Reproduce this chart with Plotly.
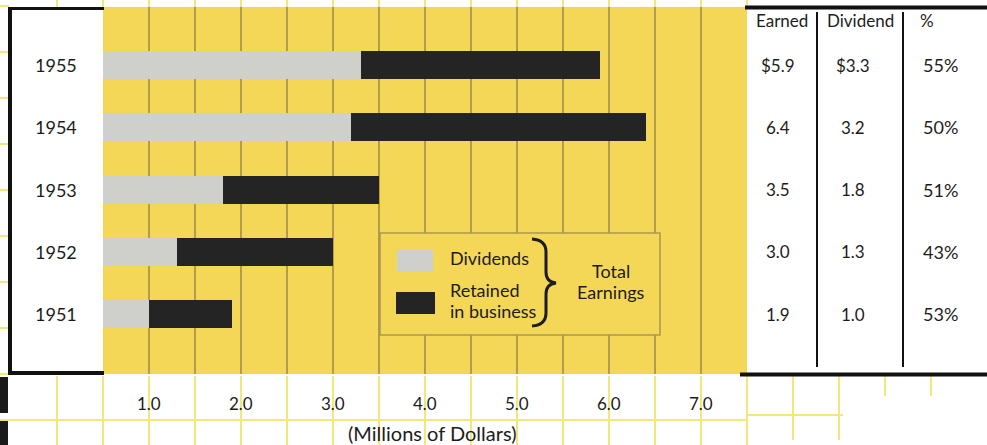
import plotly.graph_objects as go

# ---------------- data ----------------
years = ["1951", "1952", "1953", "1954", "1955"]
earned = [1.9, 3.0, 3.5, 6.4, 5.9]
dividends = [1.0, 1.3, 1.8, 3.2, 3.3]
payout_pct = [53, 43, 51, 50, 55]
retained = [round(e - d, 1) for e, d in zip(earned, dividends)]

tick_values = [1.0, 2.0, 3.0, 4.0, 5.0, 6.0, 7.0]
tick_labels = ["1.0", "2.0", "3.0", "4.0", "5.0", "6.0", "7.0"]
grid_values = [1.0, 1.5, 2.0, 2.5, 3.0, 3.5, 4.0, 4.5, 5.0, 5.5, 6.0, 6.5, 7.0]
table_headers = ["Earned", "Dividend", "%"]
x_title = "(Millions of Dollars)"

# ---------------- layout helpers (pixels -> paper) ----------------
W, H = 987, 445
def X(px): return px / W
def Y(py): return 1 - py / H

YELLOW = "#f5d758"
GRID = "#b49c48"
PAPER_LINE = "#f3e77c"
INK = "#1c1c1c"
GRAY_BAR = "#cfcfcb"
BLACK_BAR = "#242424"
FONT = "Lato"

X0_PX, X1_PX = 103, 747
XR = (0.5, 7.5)
def data_to_px(v):
    return X0_PX + (v - XR[0]) * (X1_PX - X0_PX) / (XR[1] - XR[0])

fig = go.Figure()
fig.add_trace(go.Bar(y=years, x=dividends, orientation="h", width=0.45,
                     marker=dict(color=GRAY_BAR, line=dict(width=0)),
                     name="Dividends", hoverinfo="skip"))
fig.add_trace(go.Bar(y=years, x=retained, orientation="h", width=0.45,
                     marker=dict(color=BLACK_BAR, line=dict(width=0)),
                     name="Retained in business", hoverinfo="skip"))

shapes = []
def line(x0, y0, x1, y1, color, width, layer="below"):
    shapes.append(dict(type="line", xref="paper", yref="paper",
                       x0=X(x0), y0=Y(y0), x1=X(x1), y1=Y(y1),
                       line=dict(color=color, width=width), layer=layer))
def rect(x0, y0, x1, y1, fill, lc=None, lw=0, layer="below"):
    shapes.append(dict(type="rect", xref="paper", yref="paper",
                       x0=X(x0), y0=Y(y0), x1=X(x1), y1=Y(y1),
                       fillcolor=fill, line=dict(color=lc or fill, width=lw), layer=layer))

# graph-paper background lines (outside the chart panel)
gp = [i * 0.5 for i in range(0, 16)]
for v in gp:
    px = data_to_px(v)
    line(px, 0, px, 7, PAPER_LINE, 2)
    line(px, 376, px, 445, PAPER_LINE, 2)
line(0, 420, X1_PX, 420, PAPER_LINE, 2)
for k in range(1, 10):
    line(0, 420 - 46 * k, 9, 420 - 46 * k, PAPER_LINE, 2)
for v in [8.0, 8.5]:
    px = data_to_px(v)
    line(px, 376, px, 440, PAPER_LINE, 2)
for v in [9.0, 9.5]:
    px = data_to_px(v)
    line(px, 376, px, 396, PAPER_LINE, 2)
line(X1_PX, 415, data_to_px(8.5) + 4, 415, PAPER_LINE, 2)

# black frame pieces
line(10, 7, 10, 375, "#111111", 4)
line(8, 8.5, 104, 8.5, "#111111", 3)
line(8, 373, 104, 373, "#111111", 4)
line(745, 7.5, 987, 7.5, "#111111", 4)
line(740, 374.5, 987, 374.5, "#111111", 4)
line(817, 12, 817, 367, "#111111", 2)
line(903, 12, 903, 367, "#111111", 2)
rect(0, 377, 8, 413, "#1a1a1a")
rect(0, 421, 8, 445, "#1a1a1a")

# legend box
rect(380, 233, 660, 335, YELLOW, lc="#a8994f", lw=1.5, layer="above")
rect(397, 250, 433, 272, GRAY_BAR, layer="above")
rect(396, 292, 435, 314, BLACK_BAR, layer="above")
def P(x, y): return f"{X(x):.5f},{Y(y):.5f}"
brace = "M{} Q{} {} L{} Q{} {} Q{} {} L{} Q{} {}".format(
    P(532, 239), P(546, 240), P(546, 252), P(546, 272),
    P(546, 282), P(556, 283), P(546, 284), P(546, 294),
    P(546, 313), P(546, 325), P(532, 326))
shapes.append(dict(type="path", xref="paper", yref="paper", path=brace,
                   line=dict(color=INK, width=3), layer="above"))

annotations = []
def text(t, x, y, size, xref="paper", yref="paper", xanchor="center"):
    annotations.append(dict(text=t, x=x, y=y, xref=xref, yref=yref,
                            xanchor=xanchor, yanchor="middle", showarrow=False,
                            font=dict(family=FONT, size=size, color=INK)))

# year labels and table (category axis -> serial index)
for i, yr in enumerate(years):
    text(yr, X(56), i, 18, yref="y")
    top = (yr == years[-1])
    text(("$" if top else "") + f"{earned[i]:.1f}", X(778), i, 17, yref="y")
    text(("$" if top else "") + f"{dividends[i]:.1f}", X(853), i, 17, yref="y")
    text(f"{payout_pct[i]}%", X(940), i, 18, yref="y")
for h, cx in zip(table_headers, [782, 860, 927]):
    text(h, X(cx), Y(20), 17)

# x tick labels and title
for v, lab in zip(tick_values, tick_labels):
    text(lab, v, Y(403), 17, xref="x")
text(x_title, X(432), Y(433), 20)

# legend texts
text("Dividends", X(448), Y(258), 18, xanchor="left")
text("Retained", X(448), Y(290), 18, xanchor="left")
text("in business", X(448), Y(311), 18, xanchor="left")
text("Total", X(611), Y(271), 18)
text("Earnings", X(611), Y(292), 18)

fig.update_layout(
    width=W, height=H, margin=dict(l=0, r=0, t=0, b=0, pad=0),
    paper_bgcolor="white", plot_bgcolor=YELLOW,
    barmode="stack", bargap=0, showlegend=False,
    xaxis=dict(domain=[X(X0_PX), X(X1_PX)], range=list(XR),
               tickvals=grid_values, showticklabels=False, ticks="",
               showgrid=True, gridcolor=GRID, gridwidth=1.5,
               zeroline=False, showline=False, fixedrange=True),
    yaxis=dict(domain=[Y(374), Y(7)], type="category",
               categoryorder="array", categoryarray=years,
               range=[-0.964, 4.932], showticklabels=False, ticks="",
               showgrid=False, zeroline=False, showline=False, fixedrange=True),
    shapes=shapes, annotations=annotations,
)

fig.write_html("out.html")
